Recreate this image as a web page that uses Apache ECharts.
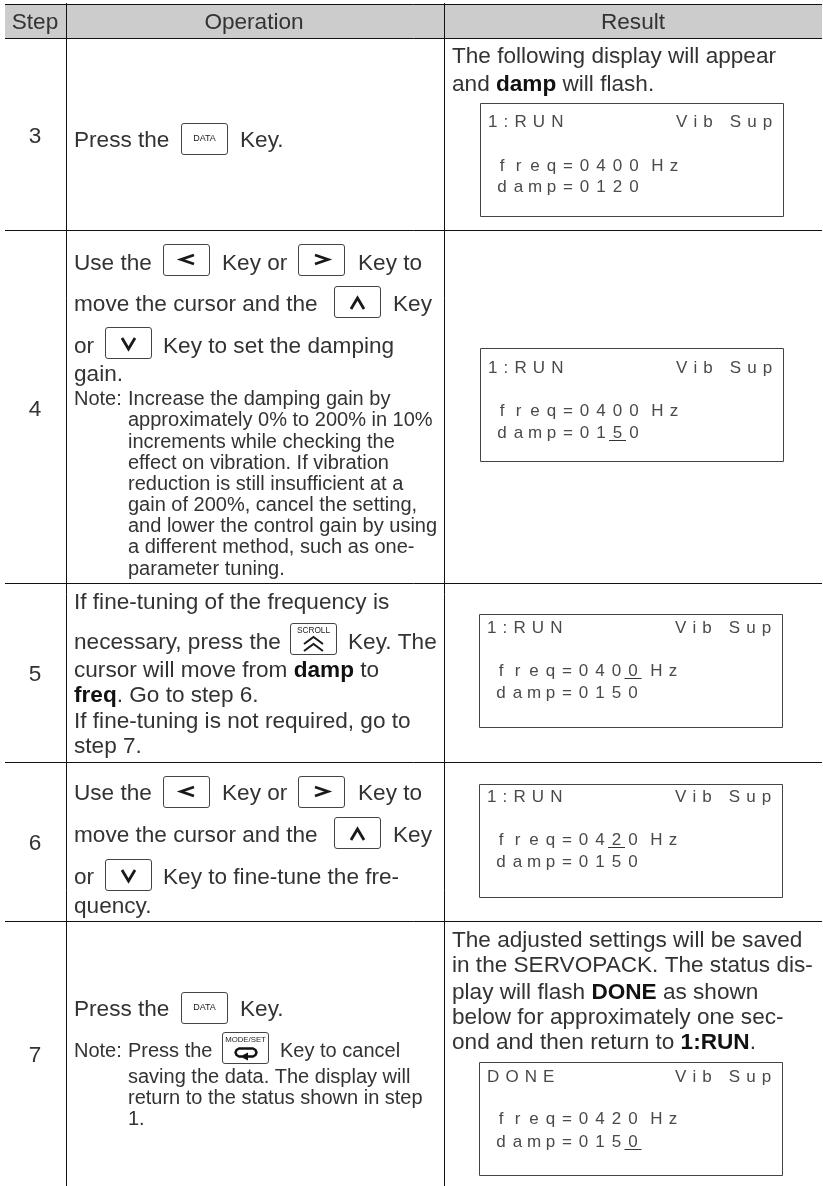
<!DOCTYPE html>
<html lang="en">
<head>
<meta charset="UTF-8">
<title>Vibration suppression steps</title>
<script src="https://cdn.jsdelivr.net/npm/echarts@6/dist/echarts.min.js"></script>
<style>
  html, body { margin: 0; padding: 0; background: #fff; }
  #main { width: 823px; height: 1186px; }
</style>
</head>
<body>
<div id="main"></div>
<script>
// table content
const headerLabels = ['Step', 'Operation', 'Result'];
const stepLabels = ['3', '4', '5', '6', '7'];

const bodyLines = [
  'Press the', 'Key.',
  'The following display will appear', 'and {b|damp} will flash.',
  'Use the', 'Key or', 'Key to', 'move the cursor and the', 'Key', 'or', 'Key to set the damping', 'gain.',
  'If fine-tuning of the frequency is', 'necessary, press the', 'Key. The', 'cursor will move from {b|damp} to',
  '{b|freq}. Go to step 6.', 'If fine-tuning is not required, go to', 'step 7.',
  'Use the', 'Key or', 'Key to', 'move the cursor and the', 'Key', 'or', 'Key to fine-tune the fre-', 'quency.',
  'Press the', 'Key.',
  'The adjusted settings will be saved', 'in the SERVOPACK. The status dis-', 'play will flash {b|DONE} as shown',
  'below for approximately one sec-', 'ond and then return to {b|1:RUN}.'
];

const noteLines = [
  'Note:', 'Increase the damping gain by', 'approximately 0% to 200% in 10%', 'increments while checking the',
  'effect on vibration. If vibration', 'reduction is still insufficient at a', 'gain of 200%, cancel the setting,',
  'and lower the control gain by using', 'a different method, such as one-', 'parameter tuning.',
  'Note:', 'Press the', 'Key to cancel', 'saving the data. The display will', 'return to the status shown in step', '1.'
];

const displayStatus = ['1:RUN', '1:RUN', '1:RUN', '1:RUN', 'DONE'];
const displayMode = ['Vib Sup', 'Vib Sup', 'Vib Sup', 'Vib Sup', 'Vib Sup'];
const displayFreq = ['0400', '0400', '0400', '0420', '0420'];
const displayDamp = ['0120', '0150', '0150', '0150', '0150'];
const cursorLine = [null, 'damp', 'freq', 'freq', 'damp'];
const cursorDigit = [null, 2, 3, 2, 3];

const keyLabels = ['DATA', 'LEFT', 'RIGHT', 'UP', 'DOWN', 'LEFT', 'RIGHT', 'UP', 'DOWN', 'SCROLL', 'DATA', 'MODE/SET'];

// layout, same order as the lists above
const bodyPos = [
  [74, 139], [240, 139],
  [452, 55], [452, 83],
  [74, 262], [222, 262], [358, 262], [74, 303], [393, 303], [74, 345], [163, 345], [74, 373],
  [74, 601], [74, 641], [348, 641], [74, 669], [74, 694], [74, 720], [74, 745],
  [74, 792], [222, 792], [358, 792], [74, 834], [393, 834], [74, 876], [163, 876], [74, 905],
  [74, 1008], [240, 1008],
  [452, 939], [452, 964], [452, 991], [452, 1016], [452, 1041]
];
const notePos = [
  [74, 398], [128, 398], [128, 419], [128, 440.5], [128, 462], [128, 483], [128, 504], [128, 525], [128, 546], [128, 568],
  [74, 1050], [128, 1050], [280, 1050], [128, 1076], [128, 1097], [128, 1118]
];
const stepY = [135, 408, 673, 842, 1054];
const rowLines = [38, 230, 583, 762, 921];
const displayBox = [[480, 103], [480, 348], [479, 614], [479, 784], [479, 1062]];
const displayRows = [[18, 62, 83], [19, 62, 84], [13, 56, 78], [12, 55, 77], [14, 56, 79]];
const keyPos = [[181, 123], [163, 244], [298, 244], [334, 286], [105, 327], [163, 776], [298, 776], [334, 817], [105, 859], [290, 623], [181, 992], [222, 1032]];

const FONT = '"Liberation Sans", Arial, sans-serif';
const INK = '#333333';
const BODY_SIZE = 22.6;
const NOTE_SIZE = 20;
const LCD_SIZE = 17;
const LCD_INK = '#4a4a4a';
const CELL = 16.5;
const NUDGE = 1.5; // canvas middle sits a bit above the visual centre of the line

const measure = document.createElement('canvas').getContext('2d');
measure.font = LCD_SIZE + 'px "Liberation Sans"';

function bodyText(text, x, y, size) {
  return {
    type: 'text', x: x, y: y + NUDGE,
    style: {
      text: text, fontFamily: FONT, fontSize: size, fill: INK,
      textAlign: 'left', textVerticalAlign: 'middle',
      rich: { b: { fontFamily: FONT, fontSize: size, fontWeight: 'bold', fill: '#111' } }
    }
  };
}

// status line: proportional letters with tracking
function lcdTracked(text, x, y) {
  const tokens = text.split('').map(c => '{s|' + c + '}').join('');
  return {
    type: 'text', x: x, y: y + NUDGE,
    style: {
      text: tokens, textAlign: 'left', textVerticalAlign: 'middle',
      rich: { s: { fontFamily: FONT, fontSize: LCD_SIZE, fill: LCD_INK, padding: [0, 6.1, 0, 0] } }
    }
  };
}

// freq / damp lines sit on a fixed character grid, so each glyph gets padded to its cell
function lcdGrid(text, x, y) {
  const rich = {};
  const tokens = text.split('').map(c => {
    const name = 'c' + c.charCodeAt(0);
    const w = measure.measureText(c).width;
    const cell = c === ' ' ? 7 : CELL;
    const pad = Math.max(0, (cell - w) / 2);
    rich[name] = { fontFamily: FONT, fontSize: LCD_SIZE, fill: LCD_INK, padding: [0, pad, 0, pad] };
    return '{' + name + '|' + c + '}';
  }).join('');
  return {
    type: 'text', x: x, y: y + NUDGE,
    style: { text: tokens, textAlign: 'left', textVerticalAlign: 'middle', rich: rich }
  };
}

function chevron(kx, ky, pts, lw) {
  return {
    type: 'polyline',
    shape: { points: pts.map(p => [kx + p[0], ky + p[1]]) },
    style: { stroke: '#1a1a1a', lineWidth: lw, fill: null, lineJoin: 'miter' }
  };
}

function keyMark(label, kx, ky) {
  const out = [{
    type: 'rect',
    shape: { x: kx + 0.5, y: ky + 0.5, width: 46, height: 31, r: 2.5 },
    style: { fill: '#fff', stroke: '#444', lineWidth: 1 }
  }];
  const small = (t, y, size) => ({
    type: 'text', x: kx + 23.5, y: ky + y,
    style: { text: t, fontFamily: FONT, fontSize: size, fill: '#222', textAlign: 'center', textVerticalAlign: 'middle' }
  });
  if (label === 'DATA') out.push(small('DATA', 16, 9));
  if (label === 'LEFT') out.push(chevron(kx, ky, [[31, 11], [18, 15.5], [31, 20]], 2.8));
  if (label === 'RIGHT') out.push(chevron(kx, ky, [[17, 11], [30, 15.5], [17, 20]], 2.8));
  if (label === 'UP') out.push(chevron(kx, ky, [[17, 23], [23.5, 12], [30, 23]], 2.8));
  if (label === 'DOWN') out.push(chevron(kx, ky, [[17, 11], [23.5, 22], [30, 11]], 2.8));
  if (label === 'SCROLL') {
    out.push(small('SCROLL', 7.5, 8.3));
    out.push(chevron(kx, ky, [[14, 21], [23.5, 14], [33, 21]], 2));
    out.push(chevron(kx, ky, [[14, 28], [23.5, 21], [33, 28]], 2));
  }
  if (label === 'MODE/SET') {
    out.push(small('MODE/SET', 8, 7.8));
    out.push({
      type: 'polyline',
      shape: { points: [[24, 24.5], [31, 24.5], [33.5, 23], [34.5, 20.5], [33.5, 18], [31, 16.5], [17, 16.5], [14.5, 18], [13.5, 20.5], [14.5, 23], [17, 24.5], [20, 24.5]].map(p => [kx + p[0], ky + p[1]]) },
      style: { stroke: '#111', lineWidth: 2.4, fill: null, lineJoin: 'round' }
    });
    out.push({
      type: 'polygon',
      shape: { points: [[kx + 18, ky + 24.5], [kx + 26, ky + 20.5], [kx + 26, ky + 28.5]] },
      style: { fill: '#111' }
    });
  }
  return out;
}

function rule(x1, y1, x2, y2, color) {
  return {
    type: 'line',
    shape: { x1: x1, y1: y1, x2: x2, y2: y2 },
    style: { stroke: color || '#111', lineWidth: 1 }
  };
}

const els = [];

// header band
els.push({ type: 'rect', shape: { x: 5, y: 4, width: 817, height: 34 }, style: { fill: '#cccccc' } });
const headerX = [35, 254, 633];
headerLabels.forEach((t, i) => {
  const el = bodyText(t, headerX[i], 21, BODY_SIZE);
  el.style.textAlign = 'center';
  els.push(el);
});

// grid
els.push(rule(5, 4.5, 822, 4.5));
rowLines.forEach(y => els.push(rule(5, y + 0.5, 822, y + 0.5)));
els.push(rule(66.5, 3, 66.5, 1186));
els.push(rule(444.5, 3, 444.5, 1186));

stepLabels.forEach((t, i) => {
  const el = bodyText(t, 35, stepY[i], BODY_SIZE);
  el.style.textAlign = 'center';
  els.push(el);
});

bodyLines.forEach((t, i) => els.push(bodyText(t, bodyPos[i][0], bodyPos[i][1], BODY_SIZE)));
noteLines.forEach((t, i) => els.push(bodyText(t, notePos[i][0], notePos[i][1], NOTE_SIZE)));
keyLabels.forEach((k, i) => keyMark(k, keyPos[i][0], keyPos[i][1]).forEach(e => els.push(e)));

// operator display panels
displayStatus.forEach((status, i) => {
  const bx = displayBox[i][0], by = displayBox[i][1];
  const rows = displayRows[i];
  els.push({
    type: 'rect',
    shape: { x: bx + 0.5, y: by + 0.5, width: 303, height: 113 },
    style: { fill: null, stroke: '#444', lineWidth: 1 }
  });
  els.push(lcdTracked(status, bx + 8, by + rows[0]));
  els.push(lcdTracked(displayMode[i], bx + 196, by + rows[0]));
  const gridX = bx + 22 - CELL / 2;
  els.push(lcdGrid('freq=' + displayFreq[i] + ' Hz', gridX, by + rows[1]));
  els.push(lcdGrid('damp=' + displayDamp[i], gridX, by + rows[2]));
  if (cursorLine[i]) {
    const row = cursorLine[i] === 'freq' ? rows[1] : rows[2];
    const cx = bx + 22 + (5 + cursorDigit[i]) * CELL;
    els.push(rule(cx - 8.5, by + row + 8.5, cx + 8.5, by + row + 8.5, '#333'));
  }
});

const chart = echarts.init(document.getElementById('main'), null, { renderer: 'canvas' });
chart.setOption({ animation: false, backgroundColor: '#fff', graphic: { elements: els } });
</script>
</body>
</html>
